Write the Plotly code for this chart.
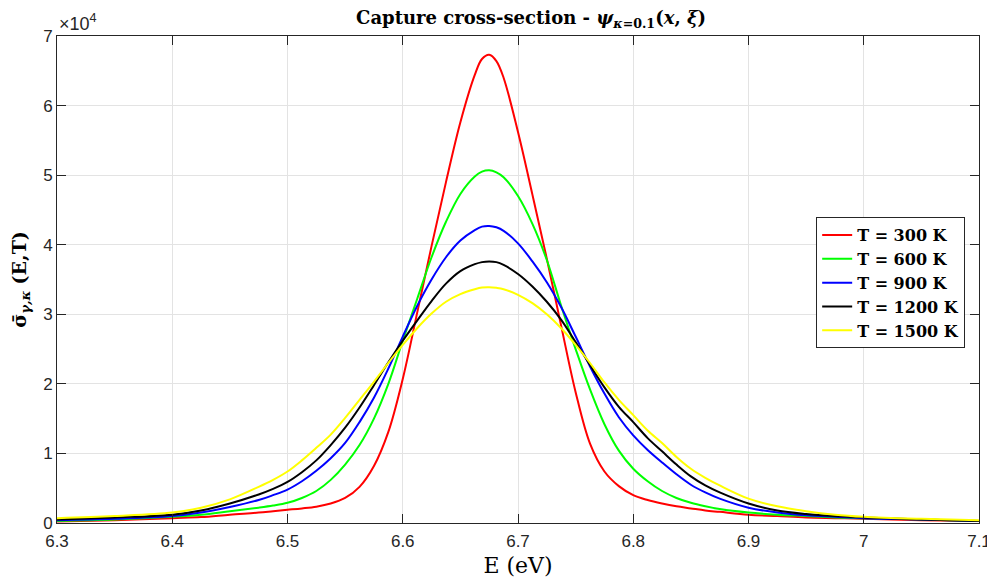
import plotly.graph_objects as go

# Photon energy grid (eV)
E_GRID = [6.30, 6.35, 6.40, 6.425, 6.45, 6.475, 6.4875, 6.50, 6.5125, 6.525, 6.5375, 6.55,
          6.5625, 6.575, 6.5875, 6.60, 6.6125, 6.625, 6.6375, 6.65, 6.6625, 6.66875, 6.675,
          6.68125, 6.6875, 6.70, 6.7125, 6.725, 6.7375, 6.75, 6.7625, 6.775, 6.7875, 6.80,
          6.8125, 6.825, 6.8375, 6.85, 6.8625, 6.875, 6.90, 6.925, 6.95, 6.975, 7.00, 7.05, 7.10]

# Capture cross-section values, in units of 1e4
S_300 = [0.02, 0.04, 0.07, 0.085, 0.12, 0.15, 0.17, 0.19, 0.21, 0.235, 0.28, 0.36,
         0.52, 0.82, 1.31, 2.07, 3.02, 3.98, 4.90, 5.76, 6.44, 6.67, 6.73,
         6.64, 6.40, 5.62, 4.72, 3.80, 2.83, 1.88, 1.14, 0.74, 0.53, 0.40,
         0.33, 0.28, 0.24, 0.21, 0.18, 0.16, 0.12, 0.10, 0.08, 0.07, 0.06, 0.04, 0.03]
S_600 = [0.03, 0.05, 0.09, 0.12, 0.17, 0.22, 0.25, 0.29, 0.36, 0.46, 0.62, 0.84,
         1.12, 1.50, 2.00, 2.62, 3.22, 3.82, 4.33, 4.73, 4.98, 5.05, 5.07,
         5.04, 4.97, 4.70, 4.30, 3.78, 3.12, 2.50, 1.92, 1.42, 1.04, 0.78,
         0.60, 0.46, 0.36, 0.29, 0.24, 0.20, 0.15, 0.12, 0.10, 0.08, 0.07, 0.05, 0.03]
S_900 = [0.04, 0.06, 0.10, 0.15, 0.23, 0.33, 0.40, 0.48, 0.60, 0.75, 0.93, 1.15,
         1.45, 1.80, 2.22, 2.68, 3.12, 3.50, 3.82, 4.06, 4.21, 4.26, 4.27,
         4.25, 4.20, 4.02, 3.76, 3.46, 3.10, 2.68, 2.25, 1.86, 1.52, 1.26,
         1.05, 0.87, 0.70, 0.55, 0.44, 0.35, 0.22, 0.15, 0.11, 0.09, 0.07, 0.05, 0.03]
S_1200 = [0.05, 0.08, 0.12, 0.18, 0.28, 0.41, 0.49, 0.59, 0.73, 0.90, 1.12, 1.37,
          1.66, 1.98, 2.31, 2.62, 2.91, 3.19, 3.44, 3.62, 3.72, 3.75, 3.76,
          3.75, 3.71, 3.58, 3.40, 3.18, 2.92, 2.60, 2.27, 1.95, 1.67, 1.45,
          1.22, 1.03, 0.84, 0.67, 0.54, 0.44, 0.28, 0.18, 0.13, 0.10, 0.08, 0.05, 0.03]
S_1500 = [0.07, 0.10, 0.15, 0.22, 0.34, 0.52, 0.62, 0.74, 0.90, 1.08, 1.27, 1.51,
          1.77, 2.03, 2.30, 2.56, 2.80, 3.01, 3.18, 3.29, 3.36, 3.385, 3.39,
          3.38, 3.36, 3.28, 3.16, 3.00, 2.80, 2.56, 2.30, 2.02, 1.77, 1.55,
          1.33, 1.15, 0.95, 0.78, 0.65, 0.54, 0.35, 0.24, 0.17, 0.12, 0.09, 0.06, 0.04]

LABELS = ["T = 300 K", "T = 600 K", "T = 900 K", "T = 1200 K", "T = 1500 K"]
COLORS = ["#ff0000", "#00ff00", "#0000ff", "#000000", "#ffff00"]
VALUES = [S_300, S_600, S_900, S_1200, S_1500]

X_TICKS = [6.3, 6.4, 6.5, 6.6, 6.7, 6.8, 6.9, 7.0, 7.1]
X_TICK_TEXT = ["6.3", "6.4", "6.5", "6.6", "6.7", "6.8", "6.9", "7", "7.1"]
Y_TICKS = [0, 1, 2, 3, 4, 5, 6, 7]

serif = "DejaVu Serif, Liberation Serif, serif"
sans = "Liberation Sans, Arial, sans-serif"

fig = go.Figure()
for name, vals, col in zip(LABELS, VALUES, COLORS):
    fig.add_trace(go.Scatter(
        x=E_GRID, y=vals, mode="lines", name="<b>" + name + "</b>",
        line=dict(color=col, width=2, shape="spline", smoothing=1.0),
    ))

axis_common = dict(
    showline=True, linecolor="#262626", linewidth=1, mirror="allticks",
    ticks="inside", ticklen=9, tickcolor="#262626", tickwidth=1,
    showgrid=True, gridcolor="#e3e3e3", gridwidth=1, zeroline=False,
    tickfont=dict(family=sans, size=17, color="#262626"),
    automargin=False,
)

# The page body adds an 8px offset; figure size/margins compensate for it.
fig.update_layout(
    width=987, height=578,
    margin=dict(l=49, r=16, t=28, b=63),
    paper_bgcolor="white", plot_bgcolor="white",
    title=dict(
        text="<b>Capture cross-section - </b><b><i>ψ</i></b><sub><b><i>κ</i>=0.1</b></sub><b>(<i>x</i>, <i>ξ</i>)</b>",
        x=0.53, xanchor="center", y=0.983, yanchor="middle",
        font=dict(family=serif, size=18, color="black"),
    ),
    xaxis=dict(range=[6.3, 7.1], tickvals=X_TICKS, ticktext=X_TICK_TEXT,
               title=dict(text="E (eV)", font=dict(family=serif, size=22, color="black"), standoff=7),
               ticklabelstandoff=3,
               **axis_common),
    yaxis=dict(range=[0, 7], tickvals=Y_TICKS,
               title=dict(text="<b>σ̄</b><sub><b><i>γ,κ</i></b></sub> <b>(E,T)</b>",
                          font=dict(family=serif, size=19, color="black"), standoff=14),
               **axis_common),
    legend=dict(
        x=0.985, xanchor="right", y=0.628, yanchor="top",
        bgcolor="white", bordercolor="#262626", borderwidth=1,
        font=dict(family=serif, size=16, color="black"),
        tracegroupgap=0, itemwidth=30,
    ),
    showlegend=True,
)

fig.add_annotation(
    x=0, xref="paper", y=1.0, yref="paper", xanchor="left", yanchor="bottom",
    text="×10<sup>4</sup>", showarrow=False, yshift=0,
    font=dict(family=sans, size=18, color="#262626"),
)

fig.write_html("out.html")
